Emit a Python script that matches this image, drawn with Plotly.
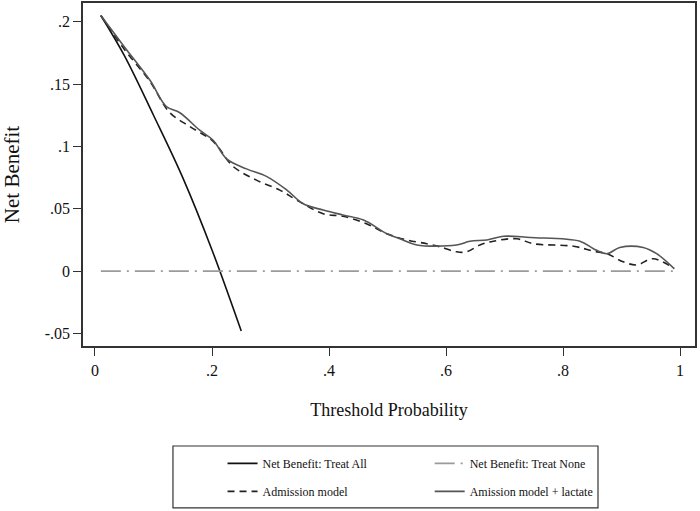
import plotly.graph_objects as go

# ---- data ----
treat_all_x = [0.01, 0.05, 0.10, 0.15, 0.20, 0.25]
treat_all_y = [0.205, 0.173, 0.125, 0.075, 0.017, -0.048]

treat_none_x = [0.01, 0.99]
treat_none_y = [0.0, 0.0]

adm_x = [0.01, 0.05, 0.094, 0.128, 0.162, 0.202, 0.236, 0.276, 0.316, 0.345, 0.390,
         0.424, 0.464, 0.499, 0.533, 0.567, 0.590, 0.618, 0.635, 0.658, 0.681, 0.721,
         0.749, 0.818, 0.852, 0.875, 0.903, 0.926, 0.954, 0.99]
adm_y = [0.205, 0.178, 0.152, 0.127, 0.116, 0.104, 0.084, 0.073, 0.065, 0.057, 0.046,
         0.044, 0.038, 0.030, 0.025, 0.022, 0.0195, 0.0155, 0.0155, 0.021, 0.024, 0.026,
         0.022, 0.020, 0.016, 0.014, 0.0075, 0.005, 0.010, 0.002]

lac_x = [0.01, 0.05, 0.094, 0.122, 0.145, 0.179, 0.202, 0.225, 0.259, 0.293, 0.328,
         0.356, 0.390, 0.424, 0.459, 0.499, 0.521, 0.550, 0.618, 0.641, 0.670, 0.698,
         0.744, 0.829, 0.852, 0.875, 0.897, 0.937, 0.960, 0.99]
lac_y = [0.205, 0.180, 0.153, 0.132, 0.127, 0.113, 0.105, 0.090, 0.082, 0.076, 0.065,
         0.054, 0.049, 0.045, 0.041, 0.030, 0.026, 0.021, 0.021, 0.024, 0.025, 0.028,
         0.027, 0.024, 0.018, 0.014, 0.019, 0.019, 0.014, 0.002]

x_tickvals = [0, 0.2, 0.4, 0.6, 0.8, 1.0]
x_ticktext = ["0", ".2", ".4", ".6", ".8", "1"]
y_tickvals = [-0.05, 0, 0.05, 0.1, 0.15, 0.2]
y_ticktext = ["-.05", "0", ".05", ".1", ".15", ".2"]

FONT = "Liberation Serif"

fig = go.Figure()
fig.add_trace(go.Scatter(x=treat_all_x, y=treat_all_y, mode="lines",
                         name="Net Benefit: Treat All", line=dict(color="#111111", width=1.6, shape="spline"),
                         legend="legend", legendgroup="a"))
fig.add_trace(go.Scatter(x=adm_x, y=adm_y, mode="lines",
                         name="Admission model", line=dict(color="#222222", width=1.6, dash="7px,5px", shape="spline"),
                         legend="legend", legendgroup="b"))
fig.add_trace(go.Scatter(x=treat_none_x, y=treat_none_y, mode="lines",
                         name="Net Benefit: Treat None", line=dict(color="#9a9a9a", width=1.6, dash="20px,6px,2px,6px"),
                         legend="legend2", legendgroup="c"))
fig.add_trace(go.Scatter(x=lac_x, y=lac_y, mode="lines",
                         name="Amission model + lactate", line=dict(color="#555555", width=1.6, shape="spline"),
                         legend="legend2", legendgroup="d"))

axis_common = dict(showline=True, mirror=True, linecolor="#333333", linewidth=1.5,
                   ticks="outside", ticklen=8, tickcolor="#333333", tickwidth=1,
                   showgrid=False, zeroline=False,
                   tickfont=dict(family=FONT, size=16, color="#111111"))

fig.update_layout(
    width=700, height=511,
    margin=dict(l=83, r=5, t=3, b=165, autoexpand=False),
    paper_bgcolor="white", plot_bgcolor="white",
    font=dict(family=FONT, color="#111111"),
    xaxis=dict(range=[-0.0205, 1.0256], tickvals=x_tickvals, ticktext=x_ticktext,
               title=dict(text="Threshold Probability", font=dict(family=FONT, size=18), standoff=25),
               ticklabelstandoff=1, **axis_common),
    yaxis=dict(range=[-0.060, 0.215], tickvals=y_tickvals, ticktext=y_ticktext,
               title=dict(text="Net Benefit", font=dict(family=FONT, size=21), standoff=20),
               **axis_common),
    legend=dict(x=0.228, y=-0.300, xanchor="left", yanchor="top", orientation="v",
                bgcolor="rgba(0,0,0,0)", borderwidth=0, tracegroupgap=9,
                font=dict(family=FONT, size=12, color="#111111")),
    legend2=dict(x=0.5665, y=-0.300, xanchor="left", yanchor="top", orientation="v",
                 bgcolor="rgba(0,0,0,0)", borderwidth=0, tracegroupgap=9,
                 font=dict(family=FONT, size=12, color="#111111")),
    shapes=[dict(type="rect", xref="paper", yref="paper",
                 x0=0.147, x1=0.8415, y0=-0.472, y1=-0.2915,
                 line=dict(color="#333333", width=1.2), fillcolor="rgba(0,0,0,0)")],
)

fig.write_html("out.html", config={"displayModeBar": False},
               post_script="document.body.style.margin='0px';")
